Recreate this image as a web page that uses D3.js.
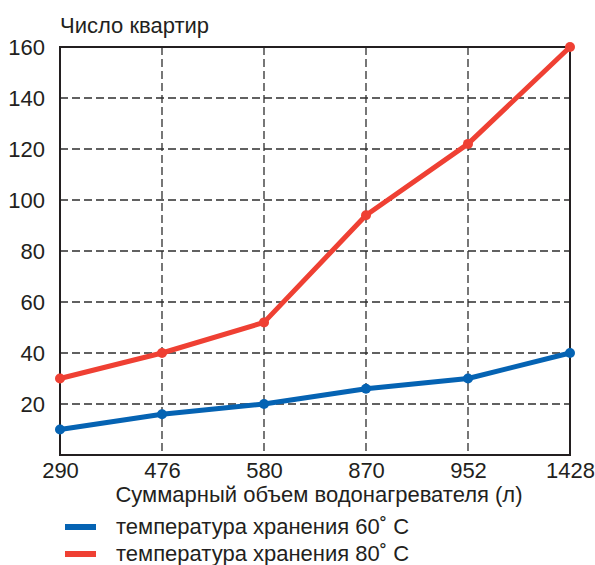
<!DOCTYPE html>
<html>
  <head>
    <meta charset="utf-8">
    <title>Число квартир</title>
    <script src="https://d3js.org/d3.v7.min.js"></script>
    <style>
      body { margin: 0; background: #fff; }
      text { font-family: "Liberation Sans", Arial, sans-serif; fill: #231f20; }
    </style>
  </head>
  <body>
    <script>
      // data
      const categories = ["290", "476", "580", "870", "952", "1428"];
      const temp60 = [10, 16, 20, 26, 30, 40];
      const temp80 = [30, 40, 52, 94, 122, 160];
      const yTicks = [20, 40, 60, 80, 100, 120, 140, 160];
      const seriesNames = ["температура хранения 60˚ C", "температура хранения 80˚ C"];
      const seriesColors = ["#0563b3", "#ef4033"];

      const width = 595;
      const height = 565;
      const plotLeft = 60, plotRight = 570, plotTop = 47, plotBottom = 455;

      const svg = d3.select("body").append("svg")
        .attr("width", width)
        .attr("height", height);

      const x = d3.scalePoint()
        .domain(categories)
        .range([plotLeft, plotRight])
        .padding(0);

      const y = d3.scaleLinear()
        .domain([0, 160])
        .range([plotBottom, plotTop]);

      // grid
      const grid = svg.append("g")
        .attr("stroke", "#2e2e2e")
        .attr("stroke-width", 1.3)
        .attr("stroke-dasharray", "8,4");

      grid.selectAll("line.h")
        .data(yTicks.slice(0, -1))
        .enter().append("line")
          .attr("x1", plotLeft).attr("x2", plotRight)
          .attr("y1", d => y(d)).attr("y2", d => y(d));

      grid.selectAll("line.v")
        .data(categories.slice(1, -1))
        .enter().append("line")
          .attr("x1", d => x(d)).attr("x2", d => x(d))
          .attr("y1", plotTop).attr("y2", plotBottom);

      // frame
      svg.append("rect")
        .attr("x", plotLeft).attr("y", plotTop)
        .attr("width", plotRight - plotLeft).attr("height", plotBottom - plotTop)
        .attr("fill", "none")
        .attr("stroke", "#231f20")
        .attr("stroke-width", 2);

      // axes
      const yAxis = svg.append("g")
        .attr("transform", "translate(" + plotLeft + ",0)")
        .call(d3.axisLeft(y).tickValues(yTicks).tickSize(0).tickPadding(15));
      yAxis.select(".domain").remove();
      yAxis.selectAll("text").style("font-size", "22px").attr("dy", "0.35em");

      const xAxis = svg.append("g")
        .attr("transform", "translate(0," + plotBottom + ")")
        .call(d3.axisBottom(x).tickSize(0).tickPadding(7));
      xAxis.select(".domain").remove();
      xAxis.selectAll("text").style("font-size", "22px").attr("dy", "0.71em");

      svg.append("text")
        .attr("x", 60).attr("y", 33)
        .style("font-size", "22px")
        .text("Число квартир");

      svg.append("text")
        .attr("x", 319).attr("y", 502)
        .attr("text-anchor", "middle")
        .style("font-size", "22px")
        .text("Суммарный объем водонагревателя (л)");

      // lines
      const line = d3.line()
        .x((d, i) => x(categories[i]))
        .y(d => y(d));

      [temp60, temp80].forEach(function(series, k) {
        svg.append("path")
          .attr("d", line(series))
          .attr("fill", "none")
          .attr("stroke", seriesColors[k])
          .attr("stroke-width", 5)
          .attr("stroke-linejoin", "round");

        svg.selectAll("circle.s" + k)
          .data(series)
          .enter().append("circle")
            .attr("cx", (d, i) => x(categories[i]))
            .attr("cy", d => y(d))
            .attr("r", 5)
            .attr("fill", seriesColors[k]);
      });

      // legend
      const legend = svg.append("g");
      seriesNames.forEach(function(name, k) {
        const ly = 527 + k * 27;
        legend.append("line")
          .attr("x1", 65).attr("x2", 96)
          .attr("y1", ly).attr("y2", ly)
          .attr("stroke", seriesColors[k])
          .attr("stroke-width", 6);
        legend.append("text")
          .attr("x", 116).attr("y", ly + 7)
          .style("font-size", "22px")
          .text(name);
      });
    </script>
  </body>
</html>
